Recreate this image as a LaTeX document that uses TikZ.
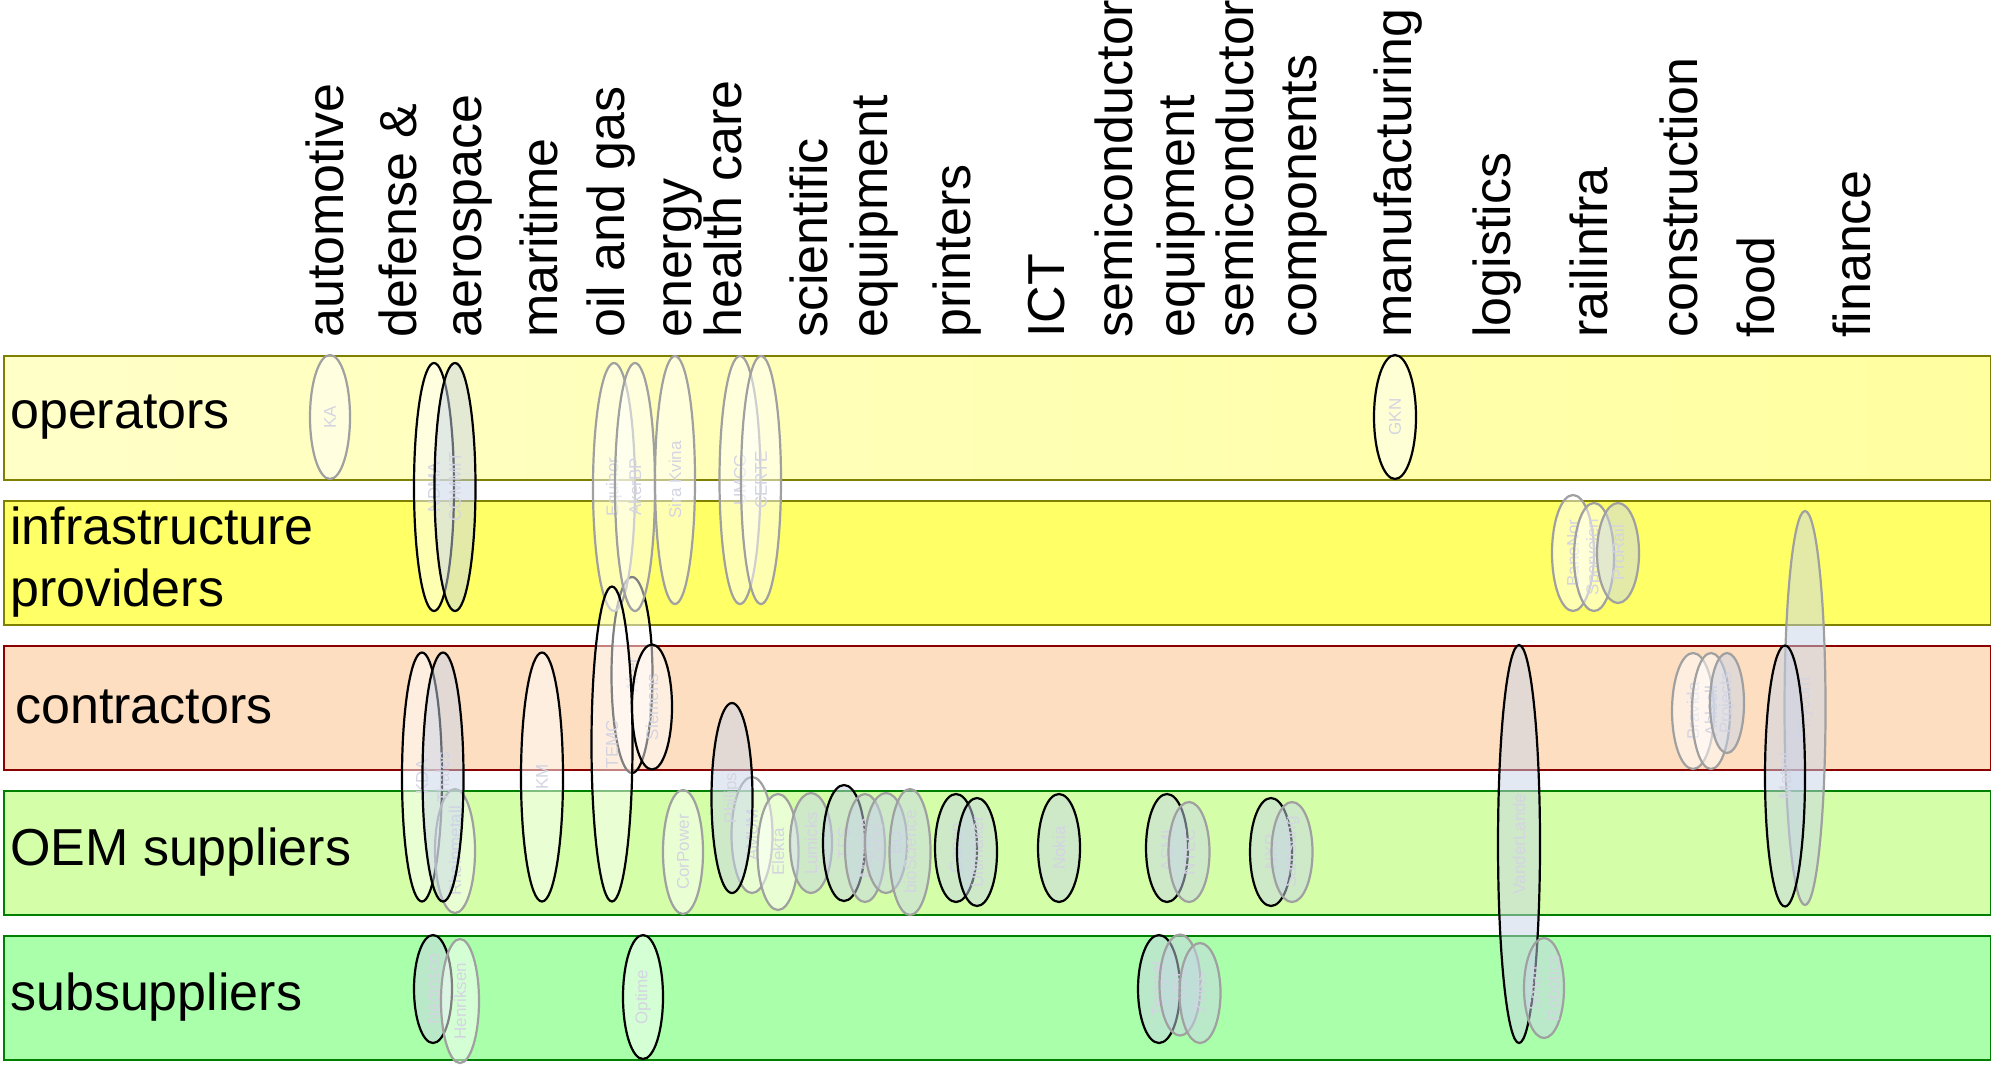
\documentclass[tikz,border=0pt]{standalone}
\usepackage{fontspec}
\setmainfont{Liberation Sans}
\usetikzlibrary{shapes.geometric}
\definecolor{opL}{RGB}{255,255,200}
\definecolor{opR}{RGB}{255,255,160}
\definecolor{infF}{RGB}{255,255,102}
\definecolor{conF}{RGB}{253,222,192}
\definecolor{oemF}{RGB}{212,255,168}
\definecolor{subF}{RGB}{170,255,170}
\definecolor{oliveB}{RGB}{128,128,0}
\definecolor{redB}{RGB}{139,0,0}
\definecolor{greenB}{RGB}{0,128,0}
\definecolor{grayS}{RGB}{160,160,160}
\definecolor{blueF}{RGB}{200,212,232}
\definecolor{lblC}{RGB}{212,212,226}
\tikzset{
  band/.style={rectangle, anchor=north west, minimum width=1987pt, minimum height=124pt, line width=2pt, inner sep=0},
  bandlbl/.style={anchor=west, inner sep=0, align=left, font=\fontsize{52}{62}\selectfont},
  col/.style={rotate=90, anchor=base west, inner sep=0, font=\fontsize{52}{62}\selectfont},
  org/.style={ellipse, inner sep=0, line width=2.2pt},
  blk/.style={draw=black},
  gry/.style={draw=grayS},
  wf/.style={fill=white, fill opacity=0.5},
  bf/.style={fill=blueF, fill opacity=0.5},
  olbl/.style={rotate=90, text=lblC, inner sep=0, align=center, font=\fontsize{17}{19}\selectfont}
}
\newcommand\orgel[7]{%
  \node[org,#6,minimum width=#4pt,minimum height=#5pt] (#1) at (#2,#3) {};
  \node[olbl] (#1l) at (#1.center) {#7};
}
\begin{document}
\begin{tikzpicture}[x=1pt,y=-1pt]
\useasboundingbox (0,0) rectangle (1991,1065);
% bands
\node[band, left color=opL, right color=opR, draw=oliveB] (bop) at (3,355) {};
\node[band, fill=infF, draw=oliveB] (binf) at (3,500) {};
\node[band, fill=conF, draw=redB] (bcon) at (3,645) {};
\node[band, fill=oemF, draw=greenB] (boem) at (3,790) {};
\node[band, fill=subF, draw=greenB] (bsub) at (3,935) {};
% band labels
\node[bandlbl] (lop) at (10,417) {operators};
\node[bandlbl] (linf) at (10,562) {infrastructure\\providers};
\node[bandlbl] (lcon) at (15,707) {contractors};
\node[bandlbl] (loem) at (10,852) {OEM suppliers};
\node[bandlbl] (lsub) at (10,997) {subsuppliers};
% column labels
\node[col] (c1) at (343,338) {automotive};
\node[col] (c2) at (416,338) {defense \&};
\node[col] (c3) at (481,338) {aerospace};
\node[col] (c4) at (557,338) {maritime};
\node[col] (c5) at (624,338) {oil and gas};
\node[col] (c6) at (691,338) {energy};
\node[col] (c7) at (741,338) {health care};
\node[col] (c8) at (827,338) {scientific};
\node[col] (c9) at (887,338) {equipment};
\node[col] (c10) at (970,338) {printers};
\node[col] (c11) at (1064,338) {ICT};
\node[col] (c12) at (1132,338) {semiconductor};
\node[col] (c13) at (1194,338) {equipment};
\node[col] (c14) at (1253,338) {semiconductor};
\node[col] (c15) at (1316,338) {components};
\node[col] (c16) at (1411,338) {manufacturing};
\node[col] (c17) at (1510,338) {logistics};
\node[col] (c18) at (1607,338) {railinfra};
\node[col] (c19) at (1697,338) {construction};
\node[col] (c20) at (1774,338) {food};
\node[col] (c21) at (1870,338) {finance};
% organisations
\orgel{ka}{330}{417}{40}{124}{gry,wf}{KA}
\orgel{ndma}{434}{487}{40}{248}{blk,wf}{NDMA}
\orgel{commit}{455}{487}{41}{248}{blk,bf}{COMMIT}
\orgel{kda}{422}{777}{40}{249}{blk,wf}{KDA}
\orgel{rheinmetall}{455}{851}{40}{124}{gry,wf}{Rheinmetall}
\orgel{thales}{443}{777}{41}{249}{blk,bf}{Thales}
\orgel{nedinsco}{433}{989}{38}{108}{blk,bf}{Nedinsco}
\orgel{henriksen}{460}{1001}{38}{124}{gry,wf}{Henriksen}
\orgel{km}{542}{777}{42}{249}{blk,wf}{KM}
\orgel{aker}{632}{675}{41}{196}{blk,wf}{Aker}
\orgel{equinor}{614}{487}{42}{248}{gry,wf}{Equinor}
\orgel{akerbp}{635}{487}{40}{248}{gry,wf}{AkerBP}
\orgel{temc}{612}{744}{41}{315}{blk,wf}{TEMC}
\orgel{siemens}{652}{707}{40}{125}{blk,wf}{Siemens}
\orgel{sirakvina}{675}{480}{40}{248}{gry,wf}{Sira Kvina}
\orgel{optime}{643}{997}{40}{124}{blk,wf}{Optime}
\orgel{corpower}{683}{852}{40}{124}{gry,wf}{CorPower}
\orgel{umcg}{740}{480}{41}{248}{gry,wf}{UMCG}
\orgel{certe}{761}{480}{40}{248}{gry,wf}{CERTE}
\orgel{amum}{752}{835}{41}{116}{gry,wf}{AMUM}
\orgel{philips}{732}{798}{41}{190}{blk,bf}{Philips}
\orgel{elekta}{778}{852}{41}{116}{gry,wf}{Elekta}
\orgel{lumicks}{811}{843}{42}{100}{gry,bf}{Lumicks}
\orgel{tfs}{844}{843}{42}{116}{blk,bf}{TFS}
\orgel{malvern}{865}{848}{40}{108}{gry,bf}{Malvern}
\orgel{zeiss}{886}{843}{42}{100}{gry,bf}{Zeiss\\BD}
\orgel{bioscience}{910}{852}{41}{126}{gry,bf}{bioScience}
\orgel{canon}{956}{848}{42}{108}{blk,bf}{Canon}
\orgel{ultimaker}{977}{852}{40}{108}{blk,bf}{Ultimaker}
\orgel{nokia}{1059}{848}{42}{108}{blk,bf}{Nokia}
\orgel{asml}{1167}{848}{42}{108}{blk,bf}{ASML}
\orgel{ntec}{1189}{852}{41}{100}{gry,bf}{NTEC}
\orgel{nxp}{1271}{852}{42}{108}{blk,bf}{NXP}
\orgel{samsung}{1292}{852}{41}{100}{gry,bf}{Samsung}
\orgel{tempo}{1159}{989}{42}{108}{blk,bf}{Tempel}
\orgel{vdl}{1180}{985}{41}{101}{gry,bf}{VDL}
\orgel{zeiss2}{1200}{993}{41}{100}{gry,bf}{Zeiss}
\orgel{gkn}{1395}{417}{42}{124}{blk,wf}{GKN}
\orgel{vanderlande}{1519}{844}{42}{398}{blk,bf}{VanderLande}
\orgel{robotics}{1544}{988}{40}{100}{gry,bf}{Smart\\Robotics}
\orgel{banenor}{1573}{553}{42}{116}{gry,wf}{BaneNor}
\orgel{sporveien}{1594}{557}{40}{108}{gry,wf}{Sporveien}
\orgel{prorail}{1618}{553}{42}{100}{gry,bf}{ProRail}
\orgel{bravida}{1693}{711}{42}{116}{gry,wf}{Bravida}
\orgel{ahlsell}{1711}{711}{38}{116}{gry,wf}{Ahlsell}
\orgel{projects}{1727}{703}{34}{100}{gry,bf}{Projects}
\orgel{phycom}{1805}{708}{41}{394}{gry,bf}{Phycom}
\orgel{mattel}{1785}{776}{40}{261}{blk,bf}{Mattel}
\end{tikzpicture}
\end{document}
